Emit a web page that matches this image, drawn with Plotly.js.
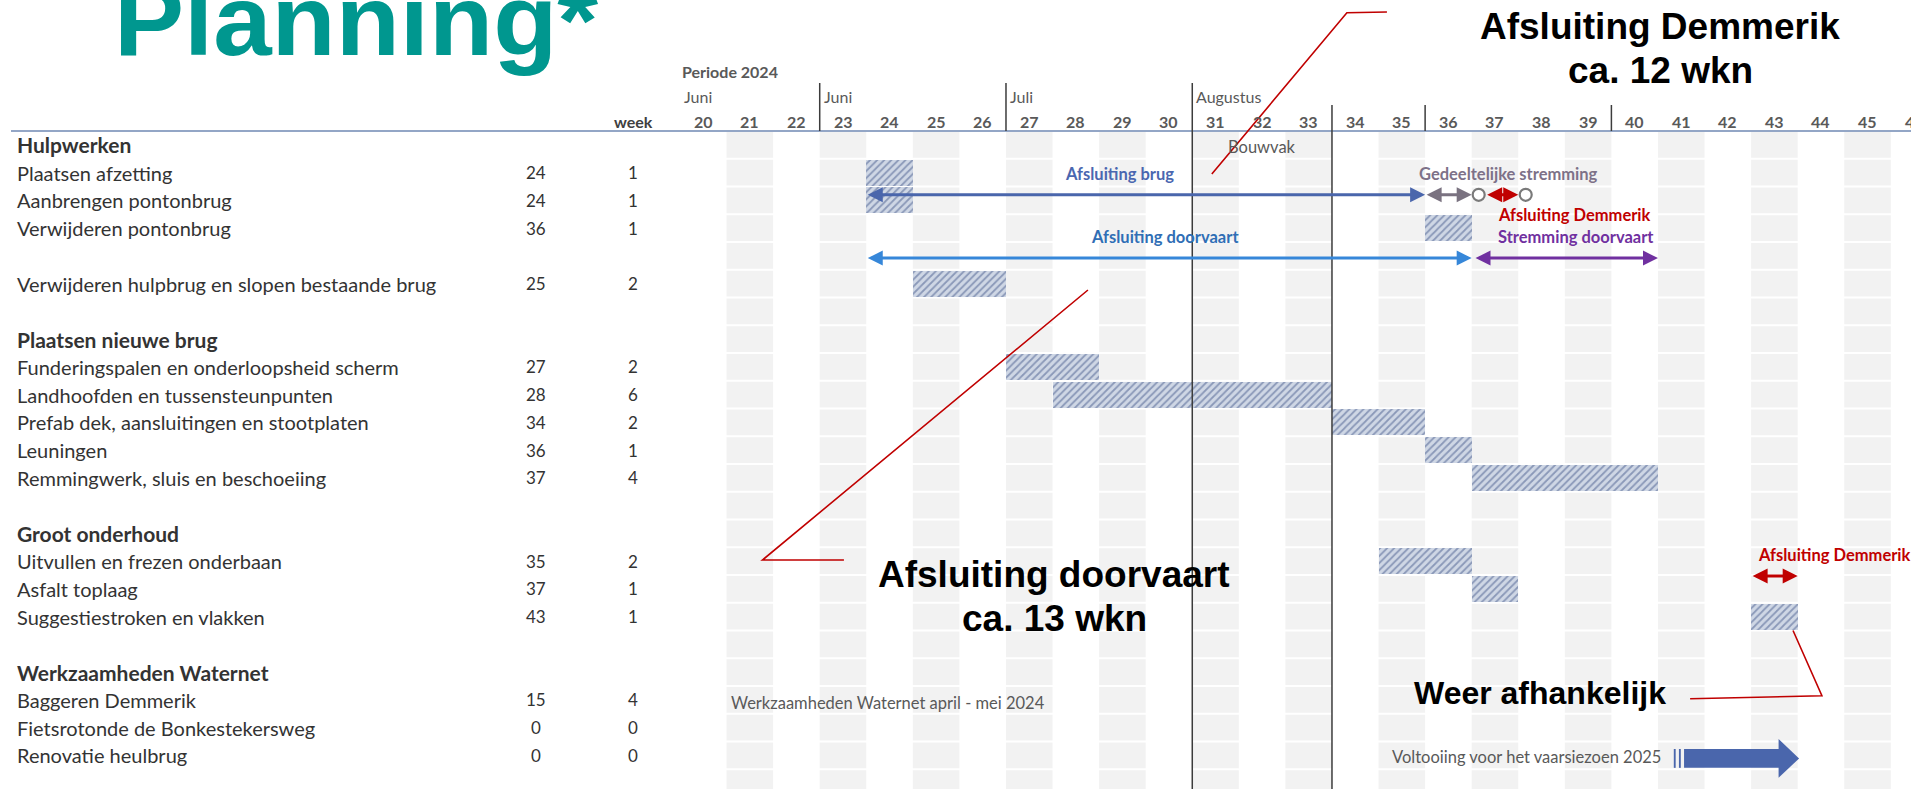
<!DOCTYPE html>
<html><head><meta charset="utf-8">
<script src="https://cdn.plot.ly/plotly-3.0.1.min.js"></script>
<style>html,body{margin:0;padding:0;background:#fff;overflow:hidden}#chart{width:1911px;height:789px}</style>
</head><body><div id="chart"></div>
<script>
// ---------------- data ----------------
const rowLabels = ["Hulpwerken","Plaatsen afzetting","Aanbrengen pontonbrug","Verwijderen pontonbrug","",
 "Verwijderen hulpbrug en slopen bestaande brug","",
 "Plaatsen nieuwe brug","Funderingspalen en onderloopsheid scherm","Landhoofden en tussensteunpunten",
 "Prefab dek, aansluitingen en stootplaten","Leuningen","Remmingwerk, sluis en beschoeiing","",
 "Groot onderhoud","Uitvullen en frezen onderbaan","Asfalt toplaag","Suggestiestroken en vlakken","",
 "Werkzaamheden Waternet","Baggeren Demmerik","Fietsrotonde de Bonkestekersweg","Renovatie heulbrug"];
const groupHeaders = ["Hulpwerken","Plaatsen nieuwe brug","Groot onderhoud","Werkzaamheden Waternet"];
const startWeek =     [null,24,24,36,null,25,null,null,27,28,34,36,37,null,null,35,37,43,null,null,15,0,0];
const durationWeeks = [null, 1, 1, 1,null, 2,null,null, 2, 6, 2, 1, 4,null,null, 2, 1, 1,null,null, 4,0,0];
const weeks = [20,21,22,23,24,25,26,27,28,29,30,31,32,33,34,35,36,37,38,39,40,41,42,43,44,45,46];
const monthLabels = ["Juni","Juni","Juli","Augustus"];
const monthStartWeeks = [20,23,27,31];
const periodLabel = "Periode 2024";

// closure / stremming spans (week boundaries) drawn as arrows
const spanFrom = [23.5, 35.5, 36.8, 23.5, 36.55, 42.5];
const spanTo   = [35.5, 36.5, 37.5, 36.5, 40.5, 43.5];
const spanRow  = [1.8, 1.8, 1.8, 4.08, 4.08, 15.54];
const milestoneWeeks = [36.65, 37.66];
const milestoneRow = 1.8;

// ---------------- geometry ----------------
const W = 1911, H = 789, L = 680, T = 131;
const colW = 46.57, rowH = 27.75;
const xr = [19.5, 19.5 + (W - L) / colW];
const yr = [-0.5 + (H - T) / rowH, -0.5];
const pxX = p => (p - L) / (W - L);
const pxY = p => 1 - (p - T) / (H - T);
const wP = w => (w - xr[0]) / (xr[1] - xr[0]);
const rP = r => (yr[0] - r) / (yr[0] - yr[1]);

const SMALL = "Lato, 'Open Sans', sans-serif";
const BIG = "'Liberation Sans', Arial, sans-serif";

// ---------------- traces ----------------
const barRows = [], barX = [], barBase = [];
durationWeeks.forEach((d, i) => { if (d) { barRows.push(i); barX.push(d); barBase.push(startWeek[i] - 0.5); } });

const traces = [{
  type: 'bar', orientation: 'h', y: barRows, x: barX, base: barBase, width: 0.94,
  marker: { color: '#CDD5E3', line: { width: 0 },
    pattern: { shape: '/', fgcolor: '#8A98B8', bgcolor: '#CFD7E5', size: 5, solidity: 0.35, fillmode: 'replace' } },
  hoverinfo: 'skip'
}, {
  type: 'scatter', mode: 'markers', x: milestoneWeeks, y: milestoneWeeks.map(() => milestoneRow),
  marker: { symbol: 'circle', size: 12, color: '#ffffff', line: { color: '#7A7A7A', width: 2.2 } },
  hoverinfo: 'skip'
}];

// ---------------- shapes ----------------
const shapes = [];
weeks.forEach(w => { if (w % 2 === 1) shapes.push({ type: 'rect', layer: 'below', xref: 'x', yref: 'paper', x0: w - 0.5, x1: w + 0.5, y0: 0, y1: 1, fillcolor: '#F2F2F2', line: { width: 0 } }); });
for (let r = 0; r <= 24; r++) shapes.push({ type: 'line', layer: 'below', xref: 'paper', yref: 'y', x0: 0, x1: 1, y0: r - 0.5, y1: r - 0.5, line: { color: '#ffffff', width: 2 } });
// header rule
shapes.push({ type: 'line', xref: 'paper', yref: 'paper', x0: pxX(11), x1: 1, y0: 1, y1: 1, line: { color: '#93A6C6', width: 2 } });
// month dividers in header
[22.5, 26.5].forEach(x => shapes.push({ type: 'line', xref: 'x', yref: 'paper', x0: x, x1: x, y0: 1, y1: pxY(83), line: { color: '#3c3c3c', width: 1.5 } }));
[35.5, 39.5].forEach(x => shapes.push({ type: 'line', xref: 'x', yref: 'paper', x0: x, x1: x, y0: 1, y1: pxY(105), line: { color: '#3c3c3c', width: 1.5 } }));
shapes.push({ type: 'line', xref: 'x', yref: 'paper', x0: 30.5, x1: 30.5, y0: 0, y1: pxY(83), line: { color: '#3c3c3c', width: 1.5 } });
shapes.push({ type: 'line', xref: 'x', yref: 'paper', x0: 33.5, x1: 33.5, y0: 0, y1: pxY(105), line: { color: '#3c3c3c', width: 1.5 } });

// red callout lines
const callouts = [
  [[34.68, -4.79], [33.82, -4.76], [30.92, 1.05]],
  [[23.02, 14.96], [21.27, 14.96], [28.26, 5.23]],
  [[41.19, 19.96], [44.02, 19.85], [43.40, 17.5]]
];
callouts.forEach(pts => {
  const d = pts.map((p, i) => (i ? 'L' : 'M') + wP(p[0]).toFixed(5) + ',' + rP(p[1]).toFixed(5)).join(' ');
  shapes.push({ type: 'path', xref: 'paper', yref: 'paper', path: d, line: { color: '#C00000', width: 1.6 } });
});

// block arrow "Voltooiing"
const ba = { tail: 41.06, headBase: 43.09, tip: 43.53, row: 22.11, body: 0.34, head: 0.70 };
shapes.push({ type: 'path', xref: 'x', yref: 'y', fillcolor: '#4A66AC', line: { width: 0 },
  path: `M${ba.tail},${ba.row - ba.body} L${ba.headBase},${ba.row - ba.body} L${ba.headBase},${ba.row - ba.head} L${ba.tip},${ba.row} L${ba.headBase},${ba.row + ba.head} L${ba.headBase},${ba.row + ba.body} L${ba.tail},${ba.row + ba.body} Z` });
[[40.84, 40.88], [40.95, 40.99]].forEach(s => shapes.push({ type: 'rect', xref: 'x', yref: 'y', x0: s[0], x1: s[1], y0: ba.row - ba.body, y1: ba.row + ba.body, fillcolor: '#4A66AC', line: { width: 0 } }));

// ---------------- annotations ----------------
const ann = [];
const txt = (o) => ann.push(Object.assign({ showarrow: false, xanchor: 'center', yanchor: 'middle' }, o));

// title (index 0)
txt({ xref: 'paper', yref: 'paper', x: pxX(112), y: pxY(20), xanchor: 'left', text: 'Planning*',
  font: { family: BIG, size: 100, color: '#00978F', weight: 700 } });

// header
txt({ xref: 'x', yref: 'paper', x: 19.5, y: pxY(72), xanchor: 'left', text: periodLabel, font: { family: SMALL, size: 16, color: '#595959', weight: 700 } });
monthLabels.forEach((m, i) => txt({ xref: 'x', yref: 'paper', x: monthStartWeeks[i] - 0.5, xshift: 2, y: pxY(96), xanchor: 'left', text: m, font: { family: SMALL, size: 16, color: '#595959' } }));
weeks.forEach(w => {
  const inRange = w < xr[1];
  txt({ xref: inRange ? 'x' : 'paper', x: inRange ? w : wP(w), yref: 'paper', y: pxY(121), text: String(w), font: { family: SMALL, size: 16, color: '#595959', weight: 700 } });
});
txt({ xref: 'paper', yref: 'paper', x: pxX(633), y: pxY(121), text: 'week', font: { family: SMALL, size: 16, color: '#404040', weight: 700 } });

// left table
rowLabels.forEach((lab, r) => {
  if (lab) {
    const hdr = groupHeaders.includes(lab);
    txt({ xref: 'paper', yref: 'y', x: pxX(15), y: r, xanchor: 'left', text: lab, font: { family: SMALL, size: hdr ? 21 : 20, color: '#333333', weight: hdr ? 700 : 400 } });
  }
  if (startWeek[r] !== null) {
    txt({ xref: 'paper', yref: 'y', x: pxX(536), y: r, text: String(startWeek[r]), font: { family: SMALL, size: 17, color: '#333333' } });
    txt({ xref: 'paper', yref: 'y', x: pxX(633), y: r, text: String(durationWeeks[r]), font: { family: SMALL, size: 17, color: '#333333' } });
  }
});

// span arrows
const spanColors = ['#4A66AC', '#7A7280', '#C00000', '#3687D9', '#7030A0', '#C00000'];
spanFrom.forEach((f, i) => ann.push({ xref: 'x', yref: 'y', axref: 'x', ayref: 'y', x: spanTo[i], y: spanRow[i], ax: f, ay: spanRow[i], text: '',
  showarrow: true, arrowhead: 2, startarrowhead: 2, arrowside: 'end+start', arrowsize: 1, startarrowsize: 1, arrowwidth: 3, arrowcolor: spanColors[i], standoff: 0, startstandoff: 0 }));

// chart texts
const CS = 16.5;
txt({ xref: 'x', yref: 'y', x: 32.0, y: 0.08, text: 'Bouwvak', font: { family: SMALL, size: CS, color: '#595959' } });
txt({ xref: 'x', yref: 'y', x: 28.93, y: 1.05, text: 'Afsluiting brug', font: { family: SMALL, size: CS, color: '#4A67B0', weight: 700 } });
txt({ xref: 'x', yref: 'y', x: 37.3, y: 1.05, text: 'Gedeeltelijke stremming', font: { family: SMALL, size: CS, color: '#7D7188', weight: 700 } });
txt({ xref: 'x', yref: 'y', x: 37.03, y: 2.53, xanchor: 'left', text: 'Afsluiting Demmerik', font: { family: SMALL, size: CS, color: '#C00000', weight: 700 } });
txt({ xref: 'x', yref: 'y', x: 37.03, y: 3.32, xanchor: 'left', text: 'Stremming doorvaart', font: { family: SMALL, size: CS, color: '#7030A0', weight: 700 } });
txt({ xref: 'x', yref: 'y', x: 29.91, y: 3.32, text: 'Afsluiting doorvaart', font: { family: SMALL, size: CS, color: '#2F6EB5', weight: 700 } });
txt({ xref: 'x', yref: 'y', x: 42.6, y: 14.78, xanchor: 'left', text: 'Afsluiting Demmerik', font: { family: SMALL, size: CS, color: '#C00000', weight: 700 } });
txt({ xref: 'x', yref: 'y', x: 20.55, y: 20.1, xanchor: 'left', text: 'Werkzaamheden Waternet april - mei 2024', font: { family: SMALL, size: CS, color: '#595959' } });
txt({ xref: 'x', yref: 'y', x: 34.75, y: 22.06, xanchor: 'left', text: 'Voltooiing voor het vaarsiezoen 2025', font: { family: SMALL, size: CS, color: '#595959' } });

// big callout texts
txt({ xref: 'paper', yref: 'paper', x: pxX(1660), y: pxY(26), text: 'Afsluiting Demmerik', font: { family: BIG, size: 37, color: '#000000', weight: 700 } });
txt({ xref: 'paper', yref: 'paper', x: pxX(1660), y: pxY(70.5), text: 'ca. 12 wkn', font: { family: BIG, size: 37, color: '#000000', weight: 700 } });
txt({ xref: 'paper', yref: 'paper', x: pxX(1054), y: pxY(574), text: 'Afsluiting doorvaart', font: { family: BIG, size: 37, color: '#000000', weight: 700 } });
txt({ xref: 'paper', yref: 'paper', x: pxX(1054), y: pxY(618), text: 'ca. 13 wkn', font: { family: BIG, size: 37, color: '#000000', weight: 700 } });
txt({ xref: 'paper', yref: 'paper', x: pxX(1540), y: pxY(693), text: 'Weer afhankelijk', font: { family: BIG, size: 32, color: '#000000', weight: 700 } });

const layout = {
  width: W, height: H, margin: { l: L, r: 0, t: T, b: 0, pad: 0 },
  paper_bgcolor: '#ffffff', plot_bgcolor: '#ffffff', showlegend: false, bargap: 0,
  xaxis: { range: xr, showgrid: false, zeroline: false, showticklabels: false, showline: false, ticks: '' },
  yaxis: { range: yr, showgrid: false, zeroline: false, showticklabels: false, showline: false, ticks: '' },
  shapes: shapes, annotations: ann
};
Plotly.newPlot('chart', traces, layout, { staticPlot: true, displayModeBar: false }).then(() => {
  // the slide title is set slightly stretched horizontally
  const t = document.querySelector('.annotation[data-index="0"] text');
  if (t) {
    t.style.transformBox = 'fill-box';
    t.style.transformOrigin = 'left center';
    t.style.transform = 'scaleX(1.05)';
  }
});
</script>
</body></html>
